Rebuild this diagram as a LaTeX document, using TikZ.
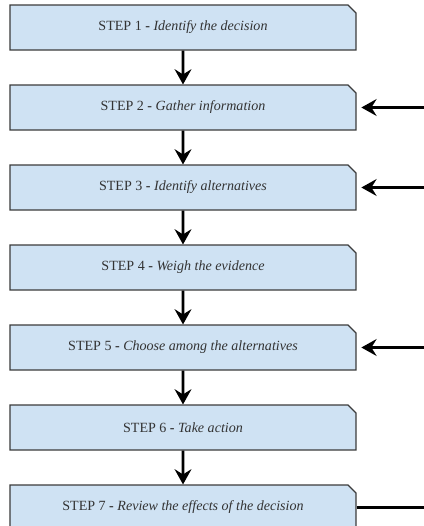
\documentclass[tikz,border=0pt]{standalone}
\usepackage{fontspec}
\setmainfont{Liberation Serif}
\usepackage{tikz}
\usetikzlibrary{positioning,shapes.misc,arrows.meta}
\definecolor{boxblue}{RGB}{207,226,243}
\definecolor{boxline}{RGB}{60,60,60}
\tikzstyle{stepbox}=[chamfered rectangle, chamfered rectangle corners=north east, chamfered rectangle xsep=0.1cm, chamfered rectangle ysep=0.1cm, draw=boxline, fill=boxblue, minimum height=1.125cm, minimum width=8.65cm, line width=0.8pt, font=\fontsize{10}{12}\selectfont, text=black!80]
\tikzstyle{flow}=[-{Stealth[length=0.38cm, width=0.42cm, inset=0.13cm]}, line width=1.9pt]
\tikzstyle{back}=[flow, shorten >=0.12cm]

\begin{document}
\begin{tikzpicture}[node distance=2cm,auto]
\useasboundingbox (0,0) rectangle (10.6,-13.15);
  \node[stepbox] at (4.575,-0.6875) (s1) {STEP 1 \textbf{-} \textit{Identify the decision}};
  \node[stepbox, below of = s1] (s2) {STEP 2 \textbf{-} \textit{Gather information}};
  \node[stepbox, below of = s2] (s3) {STEP 3 \textbf{-} \textit{Identify alternatives}};
  \node[stepbox, below of = s3] (s4) {STEP 4 \textbf{-} \textit{Weigh the evidence}};
  \node[stepbox, below of = s4] (s5) {STEP 5 \textbf{-} \textit{Choose among the alternatives}};
  \node[stepbox, below of = s5] (s6) {STEP 6 \textbf{-} \textit{Take action}};
  \node[stepbox, below of = s6] (s7) {STEP 7 \textbf{-} \textit{Review the effects of the decision}};

\draw[flow] (s1) -- (s2);
\draw[flow] (s2) -- (s3);
\draw[flow] (s3) -- (s4);
\draw[flow] (s4) -- (s5);
\draw[flow] (s5) -- (s6);
\draw[flow] (s6) -- (s7);

% lines coming back in from the right
\coordinate (in2) at (s2.east -| 10.6,0);
\coordinate (in3) at (s3.east -| 10.6,0);
\coordinate (in5) at (s5.east -| 10.6,0);
\coordinate (out7) at (s7.east -| 10.6,0);
\draw[back] (in2) -- (s2.east);
\draw[back] (in3) -- (s3.east);
\draw[back] (in5) -- (s5.east);
\draw[line width=1.9pt] (s7.east) -- (out7);
\end{tikzpicture}
\end{document}
